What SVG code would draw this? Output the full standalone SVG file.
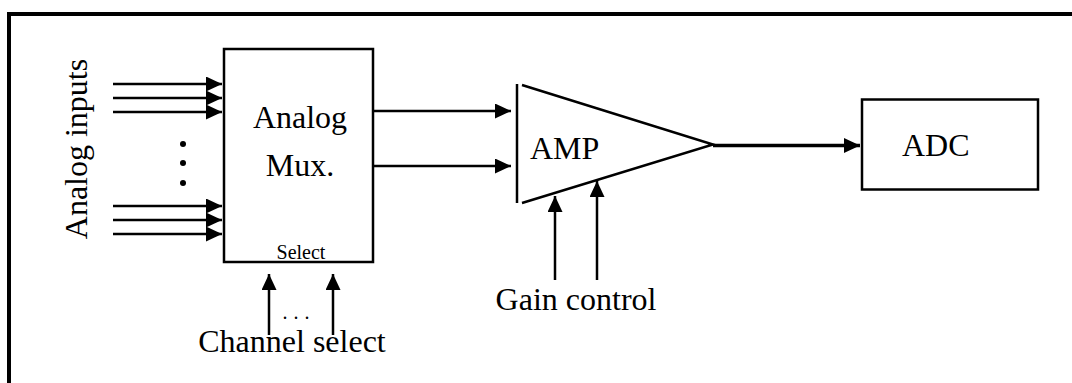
<svg xmlns="http://www.w3.org/2000/svg" width="1072" height="383" viewBox="0 0 1072 383">
<style>
text{font-family:"Liberation Serif","Times New Roman",serif;fill:#000}
.big{font-size:32px}
.box{fill:#fff;stroke:#000;stroke-width:2.5}
.ln{stroke:#000;stroke-width:2.5;fill:none}
</style>
<defs>
<marker id="ah" markerUnits="userSpaceOnUse" markerWidth="16" markerHeight="15" refX="16" refY="7.5" orient="auto">
<path d="M0,0 L16,7.5 L0,15 Z" fill="#000"/>
</marker>
</defs>
<rect width="1072" height="383" fill="#fff"/>
<g id="frame">
<path d="M9,383 L9,14 L1072,14" fill="none" stroke="#000" stroke-width="4"/>
</g>
<g id="inputs-label">
<text class="big" transform="translate(87,149) rotate(-90)" text-anchor="middle">Analog inputs</text>
<circle cx="183" cy="144" r="3" fill="#000"/>
<circle cx="183" cy="163" r="3" fill="#000"/>
<circle cx="183" cy="183" r="3" fill="#000"/>
</g>
<g id="mux">
<rect class="box" x="224" y="49" width="149" height="213"/>
<text class="big" x="300" y="128" text-anchor="middle">Analog</text>
<text class="big" x="300" y="176" text-anchor="middle">Mux.</text>
<text x="301" y="259" font-size="20" text-anchor="middle">Select</text>
</g>
<g id="amp">
<line class="ln" x1="517" y1="84" x2="517" y2="203"/>
<polyline class="ln" points="522,85 713,144.5 522,203"/>
<text class="big" x="530" y="159">AMP</text>
</g>
<g id="adc">
<rect class="box" x="862" y="99.5" width="176" height="90"/>
<text class="big" x="902" y="156">ADC</text>
</g>
<g id="channel-select">
<text x="299" y="319" font-size="20" letter-spacing="6" text-anchor="middle">...</text>
<text class="big" x="292" y="352" text-anchor="middle">Channel select</text>
</g>
<g id="gain-control">
<text class="big" x="576" y="310" text-anchor="middle">Gain control</text>
</g>
<g id="connectors" class="ln" marker-end="url(#ah)">
<line x1="113" y1="84" x2="222" y2="84"/>
<line x1="113" y1="98" x2="222" y2="98"/>
<line x1="113" y1="112" x2="222" y2="112"/>
<line x1="113" y1="206" x2="222" y2="206"/>
<line x1="113" y1="220" x2="222" y2="220"/>
<line x1="113" y1="234" x2="222" y2="234"/>
<line x1="269" y1="335" x2="269" y2="274"/>
<line x1="333" y1="335" x2="333" y2="274"/>
<line x1="373" y1="111" x2="511" y2="111"/>
<line x1="373" y1="166" x2="511" y2="166"/>
<line x1="555" y1="280" x2="555" y2="196"/>
<line x1="597" y1="280" x2="597" y2="181"/>
<line x1="713" y1="145.5" x2="860" y2="145.5" stroke-width="3.5"/>
</g>
</svg>
